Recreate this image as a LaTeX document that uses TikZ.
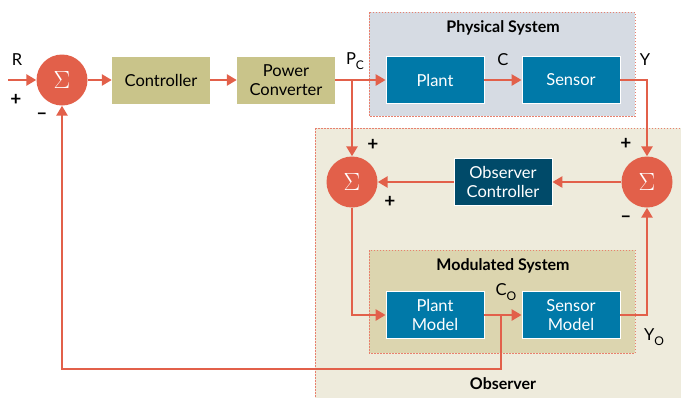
\documentclass[tikz,border=0pt]{standalone}
\usepackage{fontspec}
\setmainfont{Lato}
\usetikzlibrary{arrows.meta}
\definecolor{sigred}{HTML}{E2604A}
\definecolor{boxolive}{HTML}{C9C48A}
\definecolor{boxblue}{HTML}{0079A8}
\definecolor{boxdark}{HTML}{004A69}
\definecolor{physfill}{HTML}{D6DBE3}
\definecolor{obsfill}{HTML}{EEEBDC}
\definecolor{modfill}{HTML}{DCD5AF}
\newcommand{\subtxt}[2]{#1\raisebox{-0.6ex}{\fontsize{12}{12}\selectfont #2}}
\begin{document}
\begin{tikzpicture}[x=1pt,y=-1pt,
    every node/.style={font=\fontsize{16.5}{19}\selectfont},
    sumnode/.style={circle,fill=sigred,minimum size=51pt,inner sep=0pt,text=white,font=\fontsize{29}{29}\selectfont},
    olivebox/.style={fill=boxolive,minimum width=98pt,minimum height=47pt,inner sep=0pt,align=center},
    bluebox/.style={fill=boxblue,draw=white,line width=0.8pt,text=white,minimum width=98pt,minimum height=47pt,inner sep=0pt,align=center},
    frame/.style={draw=sigred!80,line width=0.6pt,dash pattern=on 1.5pt off 1.5pt},
    title/.style={font=\fontsize{16}{18}\selectfont\bfseries},
    sign/.style={font=\fontsize{19}{21}\selectfont\bfseries},
    sig/.style={draw=sigred,line width=2.8pt,-{Triangle[length=10pt,width=11pt]}}]
    \useasboundingbox (0,0) rectangle (681,397);
    % frames
    \filldraw[frame,fill=physfill] (369,12) rectangle (635,116);
    \filldraw[frame,fill=obsfill] (315,128) rectangle (690,405);
    \filldraw[frame,fill=modfill] (369,250) rectangle (635,353);
    \node[title] (phystitle) at (503,28) {Physical System};
    \node[title] (modtitle) at (503,266) {Modulated System};
    \node[title] (obstitle) at (503,384) {Observer};
    % blocks
    \node[sumnode] (sumA) at (62,80) {$\Sigma$};
    \node[olivebox] (ctrl) at (161,80) {Controller};
    \node[olivebox] (conv) at (286,80) {Power\\Converter};
    \node[bluebox] (plant) at (435,80) {Plant};
    \node[bluebox] (sensor) at (571,80) {Sensor};
    \node[sumnode] (sumB) at (352,182) {$\Sigma$};
    \node[sumnode] (sumC) at (647,182) {$\Sigma$};
    \node[bluebox,fill=boxdark] (obsctrl) at (503,182) {Observer\\Controller};
    \node[bluebox] (pmodel) at (435,315) {Plant\\Model};
    \node[bluebox] (smodel) at (571,315) {Sensor\\Model};
    % labels
    \node (lR) at (17,60) {R};
    \node (lP) at (355,61) {\subtxt{P}{C}};
    \node (lC) at (503,60) {C};
    \node (lY) at (645,60) {Y};
    \node (lCo) at (506,292) {\subtxt{C}{O}};
    \node (lYo) at (654,337) {\subtxt{Y}{O}};
    \node[sign] (pA) at (16,100) {+};
    \node[sign] (mA) at (42,116) {\textendash};
    \node[sign] (pB1) at (373,145) {+};
    \node[sign] (pB2) at (390,202) {+};
    \node[sign] (pC1) at (626,144) {+};
    \node[sign] (mC) at (626,219) {\textendash};
    % connectors
    \coordinate (rin) at (8,80);
    \coordinate (pc) at (352,80);
    \coordinate (co) at (501,315);
    \coordinate (fb) at (501,369);
    \draw[sig] (rin) -- (sumA);
    \draw[sig] (sumA) -- (ctrl);
    \draw[sig] (ctrl) -- (conv);
    \draw[sig] (conv) -- (plant);
    \draw[sig] (plant) -- (sensor);
    \draw[sig] (pc) -- (sumB);
    \draw[sig] (sensor.east) -| (sumC.north);
    \draw[sig] (sumC) -- (obsctrl);
    \draw[sig] (obsctrl) -- (sumB);
    \draw[sig] (sumB.south) |- (pmodel.west);
    \draw[sig] (pmodel) -- (smodel);
    \draw[sig] (smodel.east) -| (sumC.south);
    \draw[sig] (co) -- (fb) -| (sumA.south);
\end{tikzpicture}
\end{document}
